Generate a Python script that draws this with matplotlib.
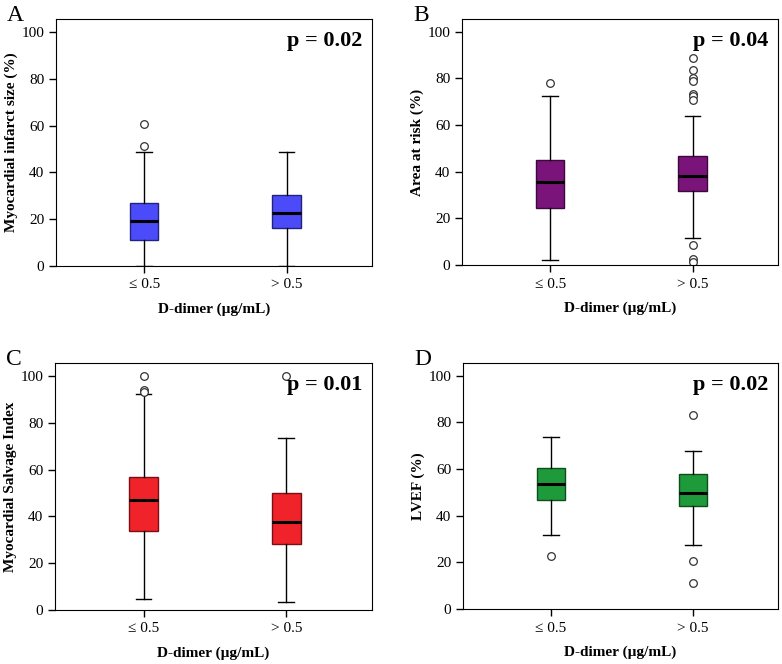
import matplotlib
matplotlib.use("Agg")
import matplotlib.pyplot as plt

groups = ["\u2264 0.5", "> 0.5"]
xlabel = "D-dimer (\u00b5g/mL)"

panels = ["A", "B", "C", "D"]
ylabels = ["Myocardial infarct size (%)", "Area at risk (%)",
           "Myocardial Salvage Index", "LVEF (%)"]
pvalues = ["p = 0.02", "p = 0.04", "p = 0.01", "p = 0.02"]
fills = ["#4B4BFA", "#7A137A", "#F0222A", "#1F9A3A"]
edges = ["#23237A", "#3D093D", "#7A1014", "#0F4D1D"]

# box stats per panel: [<=0.5, >0.5]
whislo = [[0.0, 0.0], [2.0, 11.7], [4.9, 3.4], [31.7, 27.4]]
q1 = [[11.1, 16.4], [24.5, 31.8], [33.6, 28.4], [46.7, 44.0]]
med = [[19.3, 22.5], [35.8, 38.2], [47.1, 37.6], [53.4, 49.9]]
q3 = [[26.8, 30.5], [45.1, 46.6], [57.0, 50.0], [60.6, 57.7]]
whishi = [[48.8, 48.5], [72.5, 63.8], [92.4, 73.4], [73.9, 67.9]]
fliers = [
    [[60.8, 51.1], []],
    [[77.9], [88.9, 83.7, 80.0, 79.0, 73.5, 72.3, 70.6, 8.4, 2.6, 1.1]],
    [[100.0, 93.9, 93.3], [100.0]],
    [[22.6], [83.0, 20.6, 11.3]],
]

plt.rcParams['font.family'] = ['Liberation Serif', 'DejaVu Serif']

fig = plt.figure(figsize=(7.82, 6.64), dpi=100)
W, H = 782.0, 664.0
# axes boxes in pixels: left, top, right, bottom
boxes = [(56, 19, 372, 266), (462, 19, 778, 265),
         (55, 363, 372, 610), (463, 363, 778, 609)]

for i in range(4):
    l, t, r, b = boxes[i]
    ax = fig.add_axes([l / W, 1 - b / H, (r - l) / W, (b - t) / H])
    stats = []
    for j in range(2):
        stats.append(dict(med=med[i][j], q1=q1[i][j], q3=q3[i][j],
                          whislo=whislo[i][j], whishi=whishi[i][j],
                          fliers=fliers[i][j]))
    ax.bxp(stats, positions=[1, 2], widths=0.2, patch_artist=True,
           boxprops=dict(facecolor=fills[i], edgecolor=edges[i], linewidth=1),
           medianprops=dict(color="black", linewidth=2.2),
           whiskerprops=dict(color="black", linewidth=1),
           capprops=dict(color="black", linewidth=1),
           capwidths=0.11,
           flierprops=dict(marker="o", markerfacecolor="white",
                           markeredgecolor="#333333", markersize=5.5,
                           markeredgewidth=0.9))
    ax.set_xlim(0.38, 2.6)
    ax.set_ylim(0, 105.5)
    ax.set_yticks([0, 20, 40, 60, 80, 100])
    ax.set_xticks([1, 2])
    ax.set_xticklabels(groups)
    ax.tick_params(labelsize=11, length=5, width=1, direction="out")
    ax.tick_params(axis="x", pad=4)
    ax.set_xlabel(xlabel, fontsize=11, fontweight="bold", labelpad=8)
    ax.set_ylabel(ylabels[i], fontsize=11, fontweight="bold")
    ax.yaxis.set_label_coords(-0.12, 0.5)
    ax.text(0.97, 0.95, pvalues[i], transform=ax.transAxes, ha="right",
            va="top", fontsize=16, fontweight="bold")
    fig.text((l - 49) / W, 1 - (t - 14) / H, panels[i], fontsize=17,
             ha="left", va="top")

fig.savefig("out.png", dpi=100)
